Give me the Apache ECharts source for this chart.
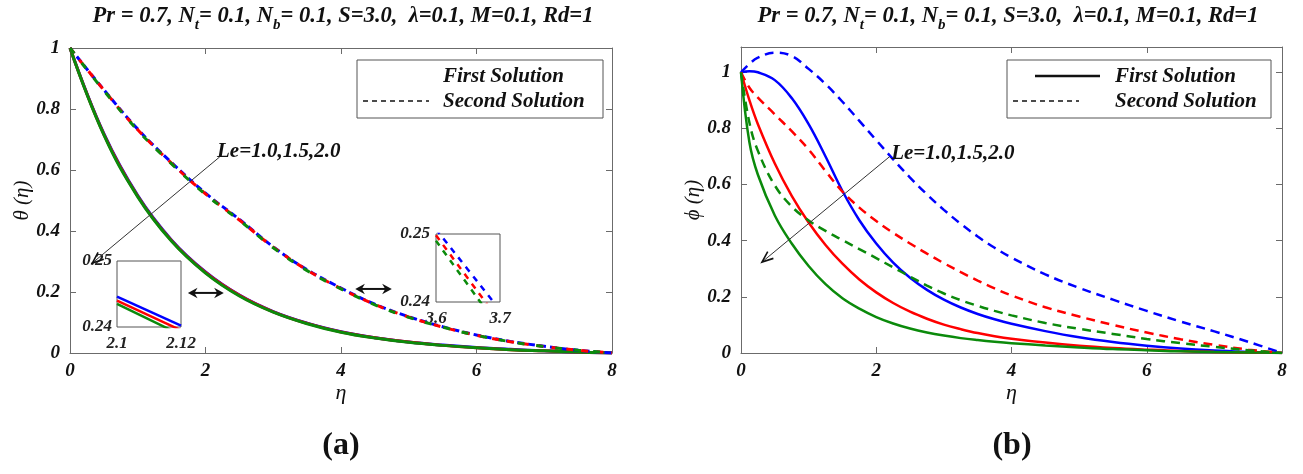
<!DOCTYPE html>
<html>
<head>
<meta charset="utf-8">
<script src="https://cdn.jsdelivr.net/npm/echarts@6/dist/echarts.min.js"></script>
<style>
  html, body { margin: 0; padding: 0; background: #fff; }
  #main { width: 1303px; height: 474px; }
</style>
</head>
<body>
<div id="main"></div>
<script>
// ---- data ----
// (a) temperature profiles theta(eta)
var etaA = [0, 0.5, 1, 1.5, 2, 2.5, 3, 3.5, 4, 4.5, 5, 5.5, 6, 6.5, 7, 7.5, 8];
var thetaFirstLe10 = [1, 0.719, 0.516, 0.370, 0.266, 0.190, 0.136, 0.098, 0.070, 0.050, 0.036, 0.026, 0.018, 0.012, 0.007, 0.003, 0];
var thetaFirstLe15 = [1, 0.717, 0.514, 0.368, 0.264, 0.189, 0.135, 0.097, 0.069, 0.050, 0.036, 0.025, 0.017, 0.011, 0.007, 0.003, 0];
var thetaFirstLe20 = [1, 0.715, 0.512, 0.366, 0.262, 0.187, 0.134, 0.096, 0.068, 0.049, 0.035, 0.025, 0.017, 0.011, 0.007, 0.003, 0];
var thetaSecondLe10 = [1, 0.863, 0.734, 0.624, 0.524, 0.438, 0.348, 0.273, 0.213, 0.160, 0.119, 0.086, 0.059, 0.038, 0.022, 0.009, 0];
var thetaSecondLe15 = [1, 0.862, 0.732, 0.622, 0.522, 0.436, 0.347, 0.272, 0.211, 0.159, 0.118, 0.085, 0.058, 0.037, 0.021, 0.009, 0];
var thetaSecondLe20 = [1, 0.860, 0.730, 0.620, 0.520, 0.435, 0.345, 0.270, 0.210, 0.158, 0.117, 0.085, 0.058, 0.037, 0.021, 0.009, 0];

// zoomed insets of (a)
var zoomEtaFirst = [2.1, 2.12];
var zoomFirstLe10 = [0.2446, 0.2402];
var zoomFirstLe15 = [0.2440, 0.2395];
var zoomFirstLe20 = [0.2435, 0.2388];
var zoomEtaSecond = [3.6, 3.7];
var zoomSecondLe10 = [0.2507, 0.2388];
var zoomSecondLe15 = [0.2498, 0.2371];
var zoomSecondLe20 = [0.2490, 0.2360];

// (b) concentration profiles phi(eta)
var etaB = [0, 0.125, 0.25, 0.5, 0.75, 1, 1.25, 1.5, 1.75, 2, 2.25, 2.5, 2.75, 3, 3.25, 3.5, 3.75, 4, 4.5, 5, 5.5, 6, 6.5, 7, 7.5, 8];
var phiFirstLe10 = [1, 1.004, 1.0, 0.972, 0.908, 0.815, 0.70, 0.577, 0.473, 0.39, 0.322, 0.268, 0.225, 0.19, 0.162, 0.139, 0.12, 0.104, 0.078, 0.056, 0.039, 0.026, 0.016, 0.009, 0.004, 0];
var phiFirstLe15 = [1, 0.90, 0.815, 0.675, 0.56, 0.465, 0.385, 0.318, 0.262, 0.216, 0.178, 0.147, 0.122, 0.101, 0.085, 0.071, 0.06, 0.051, 0.037, 0.026, 0.018, 0.012, 0.007, 0.004, 0.002, 0];
var phiFirstLe20 = [1, 0.75, 0.635, 0.49, 0.39, 0.31, 0.245, 0.195, 0.158, 0.128, 0.105, 0.087, 0.073, 0.062, 0.053, 0.046, 0.04, 0.035, 0.027, 0.02, 0.014, 0.01, 0.006, 0.004, 0.002, 0];
var phiSecondLe10 = [1, 1.03, 1.052, 1.07, 1.058, 1.012, 0.958, 0.895, 0.827, 0.758, 0.69, 0.625, 0.565, 0.51, 0.46, 0.415, 0.375, 0.34, 0.28, 0.232, 0.19, 0.15, 0.112, 0.077, 0.04, 0];
var phiSecondLe15 = [1, 0.945, 0.91, 0.85, 0.79, 0.725, 0.648, 0.575, 0.518, 0.47, 0.428, 0.39, 0.354, 0.32, 0.288, 0.258, 0.23, 0.205, 0.163, 0.13, 0.10, 0.073, 0.049, 0.029, 0.012, 0];
var phiSecondLe20 = [1, 0.82, 0.72, 0.597, 0.522, 0.472, 0.435, 0.402, 0.37, 0.338, 0.305, 0.272, 0.24, 0.212, 0.188, 0.168, 0.15, 0.134, 0.107, 0.086, 0.068, 0.05, 0.035, 0.022, 0.01, 0];

// annotations (data coordinates of each panel)
var leText = 'Le=1.0,1.5,2.0';
var leArrowA = { from: [2.21, 0.643], to: [0.33, 0.295], label: [2.17, 0.66] };
var leArrowB = { from: [2.2, 0.70], to: [0.31, 0.324], label: [2.22, 0.712] };
var zoomMarkA = [[[1.74, 0.197], [2.27, 0.197]], [[4.21, 0.21], [4.75, 0.21]]];

var BLUE = '#0000ff', RED = '#ff0000', GREEN = '#0b8a0b';
var FONT = 'Liberation Serif';
var AXC = '#6b6b6b';

function zip(xs, ys) {
  return xs.map(function (x, i) { return [x, ys[i]]; });
}

var tickLab = { fontFamily: FONT, fontStyle: 'italic', fontWeight: 'bold', fontSize: 19, color: '#111' };
var insetLab = { fontFamily: FONT, fontStyle: 'italic', fontWeight: 'bold', fontSize: 17, color: '#222' };

function mainX(grid, top, name) {
  return {
    type: 'value', gridIndex: grid, position: top ? 'top' : 'bottom',
    min: 0, max: 8, interval: 2,
    name: top ? '' : name, nameLocation: 'middle', nameGap: 29, nameMoveOverlap: false,
    nameTextStyle: { fontFamily: FONT, fontStyle: 'italic', fontSize: 22, color: '#111' },
    axisLine: { show: true, onZero: false, lineStyle: { color: AXC, width: 1 } },
    axisTick: { show: true, inside: true, length: 6, lineStyle: { color: AXC } },
    axisLabel: top ? { show: false } : Object.assign({ margin: 9 }, tickLab),
    splitLine: { show: false }
  };
}
function mainY(grid, right, max, name) {
  return {
    type: 'value', gridIndex: grid, position: right ? 'right' : 'left',
    min: 0, max: max, interval: 0.2,
    name: right ? '' : name, nameLocation: 'middle', nameGap: 37, nameRotate: 90, nameMoveOverlap: false,
    nameTextStyle: { fontFamily: FONT, fontStyle: 'italic', fontSize: 21, color: '#111' },
    axisLine: { show: true, onZero: false, lineStyle: { color: AXC, width: 1 } },
    axisTick: { show: true, inside: true, length: 6, lineStyle: { color: AXC } },
    axisLabel: right ? { show: false } : Object.assign({
      margin: 10,
      formatter: function (v) { return Math.abs(v * 5 - Math.round(v * 5)) < 1e-6 ? String(+v.toFixed(1)) : ''; }
    }, tickLab),
    splitLine: { show: false }
  };
}
function insetAxis(grid, min, max, step, margin) {
  return {
    type: 'value', gridIndex: grid, min: min, max: max, interval: step,
    axisLine: { show: false, onZero: false },
    axisTick: { show: false },
    axisLabel: Object.assign({
      margin: margin, showMinLabel: true, showMaxLabel: true,
      formatter: function (v) { return String(+v.toFixed(3)); }
    }, insetLab),
    splitLine: { show: false }
  };
}

function line(xs, ys, color, dashed, xi, yi, width, dash) {
  return {
    type: 'line', xAxisIndex: xi, yAxisIndex: yi,
    data: zip(xs, ys), showSymbol: false, smooth: 0.4, clip: true,
    lineStyle: { color: color, width: width, type: dashed ? dash : 'solid' },
    emphasis: { disabled: true }, animation: false
  };
}

var dashA = [7, 4], dashB = [9, 6];

var series = [
  // (a) main
  line(etaA, thetaFirstLe10, BLUE, false, 0, 0, 3),
  line(etaA, thetaFirstLe15, RED, false, 0, 0, 3),
  line(etaA, thetaFirstLe20, GREEN, false, 0, 0, 3),
  line(etaA, thetaSecondLe10, BLUE, true, 0, 0, 3, dashA),
  line(etaA, thetaSecondLe15, RED, true, 0, 0, 3, [7, 8]),
  line(etaA, thetaSecondLe20, GREEN, true, 0, 0, 3, [7, 12]),
  // (a) insets
  line(zoomEtaFirst, zoomFirstLe10, BLUE, false, 2, 2, 2.5),
  line(zoomEtaFirst, zoomFirstLe15, RED, false, 2, 2, 2.5),
  line(zoomEtaFirst, zoomFirstLe20, GREEN, false, 2, 2, 2.5),
  line(zoomEtaSecond, zoomSecondLe10, BLUE, true, 3, 3, 2.5, [6, 6]),
  line(zoomEtaSecond, zoomSecondLe15, RED, true, 3, 3, 2.5, [6, 6]),
  line(zoomEtaSecond, zoomSecondLe20, GREEN, true, 3, 3, 2.5, [6, 6]),
  // (b)
  line(etaB, phiFirstLe10, BLUE, false, 4, 4, 2.5),
  line(etaB, phiFirstLe15, RED, false, 4, 4, 2.5),
  line(etaB, phiFirstLe20, GREEN, false, 4, 4, 2.5),
  line(etaB, phiSecondLe10, BLUE, true, 4, 4, 2.5, dashB),
  line(etaB, phiSecondLe15, RED, true, 4, 4, 2.5, dashB),
  line(etaB, phiSecondLe20, GREEN, true, 4, 4, 2.5, dashB)
];

var chart = echarts.init(document.getElementById('main'), null, { renderer: 'canvas' });

chart.setOption({
  backgroundColor: '#fff',
  animation: false,
  grid: [
    { left: 70, top: 48, width: 542, height: 305, show: false },
    { left: 117, top: 261, width: 64, height: 66, show: true, borderColor: '#555', borderWidth: 1, backgroundColor: '#fff' },
    { left: 436, top: 234, width: 64, height: 68, show: true, borderColor: '#555', borderWidth: 1, backgroundColor: '#fff' },
    { left: 741, top: 47, width: 541, height: 306, show: false }
  ],
  xAxis: [
    mainX(0, false, 'η'),
    mainX(0, true),
    insetAxis(1, 2.1, 2.12, 0.02, 8),
    insetAxis(2, 3.6, 3.7, 0.1, 8),
    mainX(3, false, 'η'),
    mainX(3, true)
  ],
  yAxis: [
    mainY(0, false, 1, 'θ (η)'),
    mainY(0, true, 1),
    insetAxis(1, 0.24, 0.25, 0.01, 5),
    insetAxis(2, 0.24, 0.25, 0.01, 6),
    mainY(3, false, 1.09, 'ϕ (η)'),
    mainY(3, true, 1.09)
  ],
  series: series
});

// ---- overlays: titles, legends, annotations ----
function px(grid, p) { return chart.convertToPixel({ gridIndex: grid }, p); }

function openHead(tip, from, len, ang) {
  var dx = from[0] - tip[0], dy = from[1] - tip[1];
  var L = Math.sqrt(dx * dx + dy * dy), ux = dx / L, uy = dy / L;
  function rot(a) {
    return [tip[0] + len * (ux * Math.cos(a) - uy * Math.sin(a)),
            tip[1] + len * (ux * Math.sin(a) + uy * Math.cos(a))];
  }
  return [rot(ang), tip, rot(-ang)];
}
function filledHead(tip, from, len, ang) {
  var dx = from[0] - tip[0], dy = from[1] - tip[1];
  var L = Math.sqrt(dx * dx + dy * dy), ux = dx / L, uy = dy / L;
  function rot(a, l) {
    return [tip[0] + l * (ux * Math.cos(a) - uy * Math.sin(a)),
            tip[1] + l * (ux * Math.sin(a) + uy * Math.cos(a))];
  }
  return [tip, rot(ang, len), rot(0, len * 0.6), rot(-ang, len)];
}

var serifBI = { fontFamily: FONT, fontStyle: 'italic', fontWeight: 'bold' };
function titleText(cx) {
  var m = Object.assign({ fontSize: 22.5, lineHeight: 34, fill: '#111' }, serifBI);
  var s = Object.assign({ fontSize: 15, verticalAlign: 'bottom', fill: '#111' }, serifBI);
  return {
    type: 'text', x: cx, y: 16, silent: true,
    style: {
      text: '{m|Pr = 0.7, N}{s|t}{m|= 0.1, N}{s|b}{m|= 0.1, S=3.0,  λ=0.1, M=0.1, Rd=1}',
      rich: { m: m, s: s }, align: 'center', verticalAlign: 'middle'
    }
  };
}
function txt(x, y, s, size, extra) {
  return {
    type: 'text', x: x, y: y, silent: true, z: 11,
    style: Object.assign({ text: s, fontSize: size, fill: '#111', align: 'left', verticalAlign: 'middle' }, serifBI, extra || {})
  };
}
function legendBox(x, y, w, h, withSolid, textX) {
  var els = [
    { type: 'rect', shape: { x: x, y: y, width: w, height: h }, style: { fill: '#fff', stroke: '#555', lineWidth: 1 }, z: 10 },
    { type: 'line', shape: { x1: x + 6, y1: y + 41, x2: x + 72, y2: y + 41 }, style: { stroke: '#111', lineWidth: 1.5, lineDash: [5, 4] }, z: 11 },
    txt(textX, y + 17, 'First Solution', 21),
    txt(textX, y + 42, 'Second Solution', 21)
  ];
  if (withSolid) {
    els.push({ type: 'line', shape: { x1: x + 28, y1: y + 16, x2: x + 93, y2: y + 16 }, style: { stroke: '#111', lineWidth: 2.5 }, z: 11 });
  }
  return els;
}
function leArrow(grid, a) {
  var p0 = px(grid, a.from), p1 = px(grid, a.to), pl = px(grid, a.label);
  return [
    { type: 'line', shape: { x1: p0[0], y1: p0[1], x2: p1[0], y2: p1[1] }, style: { stroke: '#333', lineWidth: 1 }, z: 12 },
    { type: 'polyline', shape: { points: openHead(p1, p0, 12, 0.38) }, style: { stroke: '#111', lineWidth: 1.6, fill: null }, z: 12 },
    txt(pl[0], pl[1], leText, 21)
  ];
}
function doubleArrow(grid, seg) {
  var a = px(grid, seg[0]), b = px(grid, seg[1]);
  return [
    { type: 'line', shape: { x1: a[0] + 6, y1: a[1], x2: b[0] - 6, y2: b[1] }, style: { stroke: '#111', lineWidth: 2 }, z: 12 },
    { type: 'polygon', shape: { points: filledHead(a, b, 11, 0.5) }, style: { fill: '#111' }, z: 12 },
    { type: 'polygon', shape: { points: filledHead(b, a, 11, 0.5) }, style: { fill: '#111' }, z: 12 }
  ];
}

var gfx = [titleText(343), titleText(1008)]
  .concat(legendBox(357, 60, 246, 58, false, 443))
  .concat(legendBox(1007, 60, 264, 58, true, 1115))
  .concat(leArrow(0, leArrowA))
  .concat(leArrow(3, leArrowB))
  .concat(doubleArrow(0, zoomMarkA[0]))
  .concat(doubleArrow(0, zoomMarkA[1]))
  .concat([
    txt(341, 446, '(a)', 32, { fontStyle: 'normal', align: 'center' }),
    txt(1012, 446, '(b)', 32, { fontStyle: 'normal', align: 'center' })
  ]);

chart.setOption({ graphic: { elements: gfx } });
</script>
</body>
</html>
